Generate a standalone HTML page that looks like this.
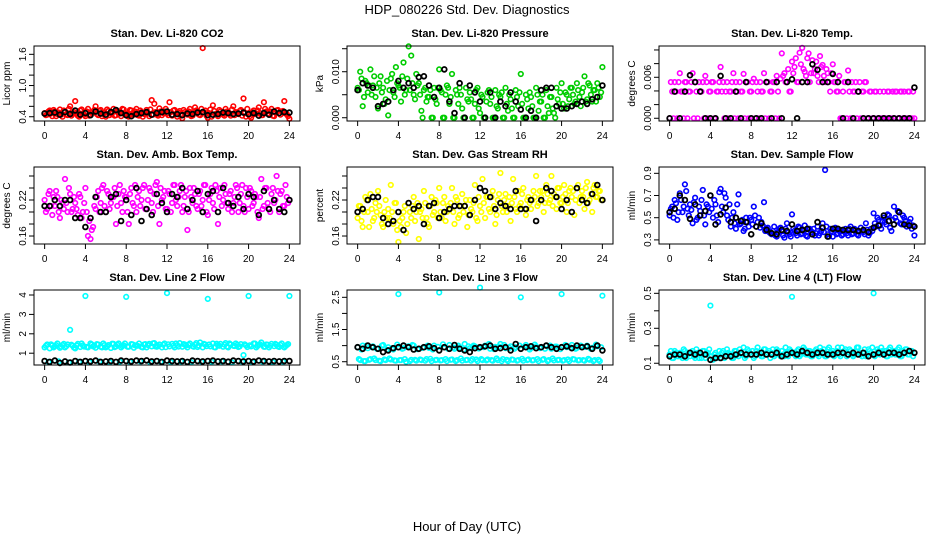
<!DOCTYPE html>
<html><head><meta charset="utf-8"><style>
body{margin:0;background:#fff}
svg{display:block;font-family:"Liberation Sans",sans-serif}
</style></head><body>
<svg id="chart" width="936" height="540" viewBox="0 0 936 540">
<rect width="936" height="540" fill="#fff"/>
<text x="467" y="14" font-size="13" text-anchor="middle">HDP_080226  Std. Dev. Diagnostics</text>
<text x="467" y="531" font-size="13" text-anchor="middle">Hour of Day (UTC)</text>
</svg>
<script>
const xTicks = [0,4,8,12,16,20,24];

const co2Color = [0.47,0.44,0.52,0.41, 0.50,0.45,0.54,0.40, 0.49,0.43,0.60,0.45, 0.70,0.42,0.52,0.46, 0.41,0.55,0.44,0.50, 0.60,0.43,0.53,0.45, 0.40,0.51,0.46,0.55, 0.43,0.50,0.41,0.54, 0.46,0.40,0.52,0.44, 0.55,0.42,0.49,0.45, 0.53,0.41,0.72,0.65, 0.44,0.56,0.43,0.50, 0.46,0.68,0.42,0.53, 0.40,0.51,0.37,0.49, 0.44,0.55,0.42,0.58, 0.47,0.43,1.72,0.52, 0.38,0.54,0.62,0.45, 0.41,0.50,0.44,0.55, 0.47,0.42,0.60,0.49, 0.45,0.53,0.75,0.40, 0.44,0.38,0.52,0.46, 0.58,0.43,0.68,0.50, 0.44,0.55,0.41,0.52, 0.47,0.50,0.70,0.45, 0.36];
const co2Color2 = [0.43,0.50,0.46,0.53, 0.41,0.48,0.44,0.52, 0.45,0.55,0.42,0.49, 0.47,0.40,0.54,0.44, 0.50,0.42,0.47,0.53, 0.45,0.51,0.41,0.48, 0.54,0.43,0.49,0.42, 0.50,0.46,0.55,0.44, 0.41,0.53,0.47,0.50, 0.43,0.52,0.40,0.48, 0.46,0.54,0.44,0.49, 0.42,0.50,0.47,0.55, 0.43,0.49,0.52,0.45, 0.48,0.42,0.53,0.46, 0.50,0.41,0.47,0.52, 0.44,0.55,0.49,0.42, 0.47,0.40,0.51,0.44, 0.53,0.46,0.42,0.50, 0.45,0.54,0.43,0.48, 0.51,0.42,0.47,0.55, 0.41,0.49,0.45,0.52, 0.47,0.43,0.55,0.46, 0.50,0.42,0.48,0.53, 0.44,0.51,0.46,0.41];
const co2Black = [0.46,0.47,0.48,0.44, 0.49,0.45,0.52,0.44, 0.47,0.43,0.50,0.46, 0.44,0.49,0.53,0.47, 0.43,0.41,0.45,0.47, 0.49,0.44,0.47,0.49, 0.50,0.44,0.45,0.43, 0.46,0.45,0.48,0.49, 0.43,0.44,0.45,0.48, 0.47,0.45,0.46,0.48, 0.45,0.47,0.42,0.47, 0.44,0.50,0.47,0.49, 0.48];

const presColor = [.0065,.010,.0025,.008, .0055,.0105,.007,.0045, .002,.009,.0065,.004, .0005,.0085,.0055,.011, .007,.0035,.012,.006, .0155,.0135,.005,.0095, .0075,.0015,.006,.0035, .0045,.000,.0065,.003, .0105,.0055,.000,.007, .003,.0095,.000,.005, .0065,.002,.000,.004, .0055,.000,.003,.0065, .001,.0045,.000,.0055, .003,.000,.006,.002, .0045,.000,.0065,.0015, .004,.000,.006,.0025, .0095,.000,.005,.002, .0045,.000,.0065,.0015, .0035,.000,.006,.001, .0045,.001,.0065,.003, .0075,.002,.005,.004, .0065,.003,.0075,.0045, .0055,.009,.004,.007, .0035,.006,.0075,.0045, .011];
const presColor2 = [.006,.0085,.0045,.0075, .007,.005,.009,.0065, .0075,.0055,.003,.008, .006,.0095,.0045,.0075, .0065,.009,.005,.0085, .006,.0075,.004,.007, .005,.000,.0065,.0045, .006,.000,.004,.0065, .006,.000,.005,.0065, .0045,.000,.006,.003, .005,.000,.0065,.0035, .004,.000,.006,.002, .005,.000,.0035,.006, .0045,.000,.0025,.005, .0055,.000,.003,.005, .002,.000,.0045,.0055, .003,.000,.004,.0055, .0025,.000,.005,.0035, .005,.000,.0025,.0045, .002,.000,.004,.0055, .003,.0055,.0025,.0065, .005,.0035,.006,.0025, .0065,.0035,.0075,.005, .006,.0035,.0065,.0055];
const presBlack = [.006,.0075,.007,.0065, .0025,.003,.0035,.006, .008,.0065,.0075,.0065, .0088,.009,.007,.0045, .0065,.0105,.0035,.001, .0075,.000,.007,.0055, .0035,.000,.0055,.000, .0035,.0025,.0055,.0035, .0018,.000,.0015,.000, .006,.0065,.0065,.0025, .002,.002,.0025,.003, .0035,.003,.004,.0045, .007];

const tempColor = [0,.0039,.0053,0, .0066,.0039,.0053,0, .0039,.0066,.0053,0, .0039,.0053,.0062,0, .0039,.0053,0,.0039, .0075,.0053,.0039,0, .0039,.0066,.0053,0, .0039,.0065,.0053,0, .0039,.0058,.0053,0, .0039,.0066,.0053,0, .0039,.0053,.0062,0, .0095,.0066,.0053,.0039, .0083,.0075,.0053,.0096, .0103,.0068,.0088,.0053, .0085,.0072,.0062,.0091, .0078,.0053,.0066,.0039, .0079,.0053,.0039,0, .0039,.0053,.0070,0, .0039,.0053,.0039,0, .0039,.0053,0,.0039, 0,.0039,0,0, .0039,0,.0039,0, 0,.0039,0,.0039, .0039,0,.0039,0, 0];
const tempColor2 = [.0053,0,.0039,.0053, .0039,0,.0053,.0039, .0053,0,.0039,.0053, .0039,0,.0053,.0039, .0053,0,.0039,.0053, .0039,0,.0053,.0039, .0053,0,.0039,.0053, .0039,0,.0053,.0039, .0053,0,.0039,.0053, .0039,0,.0053,.0039, .0053,0,.0039,.0058, .0062,.0053,.0072,.0039, .0066,.0088,.0053,.0079, .0072,.0062,.0095,.0066, .0066,.0083,.0053,.0075, .0062,.0072,.0053,.0066, .0053,.0039,.0062,0, .0053,0,.0039,.0053, .0039,0,.0053,.0039, .0053,0,.0039,0, .0039,0,.0039,0, 0,.0039,0,.0039, .0039,0,.0039,0, 0,.0039,0,.0039];
const tempBlack = [0,.0039,0,.0039, .0063,.0053,.0039,0, 0,0,.0062,0, 0,.0039,0,.0053, 0,0,0,.0053, 0,.0053,0,.0053, .0057,0,.0053,.0053, .0079,.0071,.0053,.0053, .0065,.0053,0,.0053, 0,.0039,0,0, 0,0,0,0, 0,0,0,0, .0045];

const boxColor = [.22,.205,.235,.195, .21,.225,.19,.215, .255,.2,.23,.205, .215,.195,.225,.2, .24,.16,.155,.175, .205,.235,.215,.245, .2,.23,.215,.225, .18,.23,.215,.235, .225,.18,.24,.21, .2,.235,.22,.245, .205,.24,.215,.23, .25,.18,.22,.235, .205,.23,.215,.245, .21,.235,.2,.225, .17,.24,.215,.23, .205,.235,.22,.245, .195,.23,.215,.245, .18,.24,.22,.23, .205,.235,.215,.245, .2,.23,.21,.24, .205,.235,.215,.225, .19,.255,.21,.24, .205,.23,.215,.26, .2,.235,.21,.225, .22];
const boxColor2 = [.2,.23,.21,.225, .235,.2,.22,.205, .215,.24,.2,.225, .205,.23,.19,.215, .2,.185,.17,.21, .225,.2,.24,.21, .235,.205,.225,.24, .21,.245,.2,.225, .2,.23,.215,.245, .225,.21,.24,.205, .22,.235,.2,.245, .21,.24,.225,.205, .235,.2,.245,.22, .225,.245,.21,.235, .2,.225,.24,.21, .23,.21,.245,.2, .22,.24,.205,.235, .225,.21,.245,.215, .23,.2,.225,.24, .215,.245,.2,.225, .24,.21,.23,.2, .225,.205,.24,.215, .2,.24,.22,.235, .23,.21,.245,.215];
const boxBlack = [.21,.21,.22,.21, .22,.22,.19,.19, .175,.19,.225,.2, .2,.225,.23,.185, .22,.195,.24,.185, .205,.195,.23,.215, .2,.23,.225,.24, .205,.22,.235,.2, .23,.235,.2,.24, .215,.21,.225,.205, .23,.225,.195,.235, .205,.22,.205,.2, .22];

const rhColor = [.19,.21,.175,.225, .2,.23,.185,.215, .235,.195,.175,.22, .205,.245,.18,.215, .15,.175,.2,.165, .215,.19,.225,.2, .155,.205,.235,.19, .175,.225,.2,.215, .24,.19,.225,.2, .205,.24,.18,.22, .195,.23,.21,.175, .22,.2,.245,.185, .21,.255,.19,.225, .2,.235,.18,.22, .265,.2,.23,.21, .185,.255,.205,.235, .215,.24,.195,.225, .205,.235,.26,.215, .225,.2,.245,.215, .26,.23,.205,.24, .215,.245,.2,.235, .225,.195,.24,.215, .235,.205,.25,.22, .2,.245,.225,.235, .22];
const rhColor2 = [.21,.185,.2,.22, .175,.205,.19,.2, .21,.18,.2,.19, .19,.2,.215,.17, .185,.19,.21,.18, .2,.21,.185,.215, .2,.19,.215,.18, .21,.195,.22,.19, .2,.215,.185,.21, .215,.2,.225,.19, .21,.2,.22,.195, .205,.215,.19,.225, .2,.215,.225,.205, .225,.21,.195,.23, .21,.22,.2,.225, .215,.225,.2,.21, .23,.205,.22,.215, .22,.225,.21,.235, .235,.215,.23,.22, .21,.225,.24,.215, .225,.23,.215,.24, .235,.22,.245,.225, .225,.24,.215,.23, .24,.225,.235,.22];
const rhBlack = [.2,.205,.22,.225, .225,.19,.18,.185, .2,.17,.215,.205, .21,.18,.21,.215, .19,.2,.205,.21, .21,.21,.195,.22, .24,.235,.225,.205, .215,.21,.205,.235, .205,.205,.22,.185, .22,.24,.235,.225, .205,.22,.2,.24, .22,.215,.23,.245, .22];

const flowColor = [.52,.6,.66,.48, .72,.55,.8,.58, .62,.45,.68,.5, .56,.75,.44,.6, .7,.5,.62,.46, .76,.55,.68,.48, .42,.55,.4,.71, .45,.38,.5,.42, .48,.6,.42,.5, .46,.64,.4,.37, .35,.42,.33,.4, .38,.32,.45,.35, .53,.38,.34,.41, .36,.43,.33,.4, .37,.34,.42,.36, .45,.93,.35,.4, .33,.41,.36,.39, .35,.4,.34,.42, .36,.39,.34,.41, .37,.45,.34,.4, .54,.42,.48,.4, .5,.44,.52,.38, .6,.47,.55,.44, .5,.42,.46,.4, .34];
const flowColor2 = [.58,.5,.63,.55, .66,.6,.74,.52, .57,.64,.48,.6, .66,.52,.62,.55, .58,.66,.52,.73, .6,.72,.52,.62, .5,.45,.62,.44, .48,.4,.46,.5, .44,.52,.46,.41, .43,.38,.41,.36, .38,.34,.37,.41, .34,.4,.37,.33, .4,.36,.42,.35, .38,.34,.4,.37, .4,.36,.34,.38, .37,.42,.33,.38, .4,.35,.38,.34, .38,.36,.4,.35, .4,.35,.37,.38, .35,.39,.36,.38, .45,.5,.43,.47, .46,.53,.41,.48, .5,.56,.45,.52, .47,.44,.49,.43];
const flowBlack = [.55,.58,.7,.66, .49,.62,.52,.56, .7,.44,.53,.59, .46,.5,.47,.46, .35,.42,.45,.39, .36,.35,.39,.38, .44,.38,.39,.4, .35,.46,.41,.33, .4,.4,.39,.39, .39,.38,.39,.37, .41,.43,.52,.47, .44,.55,.44,.43, .42];

const line2Color = [1.3,1.45,1.25,1.4, 1.35,1.5,1.28,1.42, 1.3,1.45,2.2,1.38, 1.25,1.48,1.32,1.4, 3.95,1.3,1.5,1.35, 1.28,1.45,1.33,1.5, 1.3,1.42,1.27,1.48, 1.35,1.5,1.3,1.4, 3.9,1.33,1.47,1.28, 1.4,1.5,1.32,1.45, 1.3,1.48,1.35,1.52, 1.33,1.45,1.3,1.5, 4.1,1.35,1.48,1.3, 1.42,1.52,1.33,1.45, 1.3,1.5,1.36,1.44, 1.32,1.55,1.3,1.45, 3.8,1.35,1.5,1.3, 1.42,1.48,1.33,1.52, 1.3,1.45,1.38,1.5, 1.32,1.47,0.9,1.4, 3.95,1.35,1.5,1.3, 1.42,1.55,1.33,1.45, 1.3,1.48,1.36,1.44, 1.32,1.5,1.3,1.42, 3.95];
const line2Color2 = [1.38,.55,1.46,1.3, 1.42,.58,1.33,1.48, 1.36,.52,1.44,1.29, 1.4,.56,1.5,1.34, 1.32,.54,1.45,1.38, 1.47,.57,1.3,1.42, 1.35,.53,1.49,1.31, 1.44,.56,1.36,1.5, 1.33,.55,1.46,1.4, 1.38,.58,1.3,1.47, 1.42,.52,1.51,1.35, 1.37,.56,1.44,1.31, 1.46,.54,1.38,1.5, 1.34,.57,1.47,1.4, 1.43,.53,1.33,1.52, 1.39,.56,1.48,1.36, 1.45,.55,1.31,1.49, 1.38,.58,1.44,1.34, 1.5,.52,1.37,1.43, 1.35,.56,1.46,1.32, 1.41,.54,1.5,1.37, 1.46,.57,1.33,1.44, 1.38,.53,1.48,1.35, 1.43,.56,1.36,1.47];
const line2Black = [.6,.55,.62,.5, .58,.52,.6,.55, .6,.58,.62,.55, .58,.6,.55,.62, .6,.58,.62,.6, .63,.58,.6,.55, .62,.6,.58,.6, .55,.62,.6,.58, .6,.62,.58,.6, .56,.62,.6,.58, .6,.57,.62,.6, .58,.6,.58,.6, .6];

const line3Color = [.95,.55,1.0,.52, .92,.58,.98,.55, .9,.52,1.02,.55, .95,.57,.88,.53, 2.6,.55,.92,.5, .98,.56,1.0,.53, .9,.55,.95,.58, .93,.52,1.0,.56, 2.65,.55,.95,.52, 1.02,.57,.9,.55, .95,.53,1.05,.56, .92,.58,.98,.52, 2.8,.55,1.0,.57, .9,.53,.96,.55, 1.05,.58,.92,.52, .98,.56,.95,.55, 2.5,.53,1.02,.57, .92,.55,.98,.52, .95,.58,1.0,.55, .9,.54,.97,.56, 2.6,.55,.95,.52, 1.02,.57,.93,.55, .97,.53,1.0,.56, .93,.55,.98,.52, 2.55];
const line3Color2 = [.58,.88,.52,1.0, .56,.95,.6,.9, .53,1.0,.57,.87, .6,.92,.54,1.03, .55,.9,.58,.97, .52,1.02,.56,.89, .57,.93,.53,1.0, .59,.88,.55,.96, .54,1.04,.58,.9, .56,.94,.52,1.0, .6,.87,.55,.98, .53,1.0,.57,.91, .58,.95,.54,1.05, .55,.89,.6,.97, .52,1.02,.56,.93, .57,.9,.53,1.0, .59,.96,.55,.88, .54,1.03,.58,.92, .56,.9,.52,1.0, .6,.97,.55,.89, .53,1.02,.57,.94, .58,.9,.54,1.0, .55,.96,.59,.9, .52,1.03,.56,.95];
const line3Black = [.95,.9,1.0,.95, .9,.8,.85,.92, .95,1.0,.95,.88, .9,.95,.98,.92, .85,.95,.9,1.02, .9,.85,.8,.92, .95,.98,1.0,.9, .92,.95,.85,1.05, .9,.95,.98,.92, .95,1.0,.95,.9, .95,.98,.92,1.0, .95,.98,.9,1.0, .85];

const line4Color = [.15,.13,.17,.14, .16,.13,.17,.15, .14,.17,.13,.16, .15,.17,.13,.16, .43,.12,.16,.14, .13,.17,.14,.16, .15,.13,.17,.14, .16,.19,.14,.17, .15,.13,.17,.16, .14,.18,.15,.17, .16,.14,.18,.15, .17,.14,.16,.18, .48,.15,.17,.14, .16,.18,.15,.17, .14,.17,.15,.19, .16,.14,.18,.15, .17,.15,.19,.14, .16,.18,.15,.17, .14,.17,.19,.15, .16,.14,.18,.16, .50,.15,.17,.19, .16,.14,.18,.15, .17,.15,.19,.14, .16,.18,.15,.17, .16];
const line4Color2 = [.17,.13,.16,.14, .14,.18,.13,.16, .16,.14,.18,.13, .13,.17,.15,.18, .14,.15,.13,.17, .16,.13,.18,.15, .13,.17,.15,.18, .15,.13,.18,.16, .17,.14,.19,.15, .14,.18,.16,.13, .18,.15,.17,.14, .15,.19,.14,.17, .16,.14,.18,.15, .19,.15,.17,.14, .15,.18,.14,.17, .18,.14,.19,.16, .14,.17,.15,.19, .17,.14,.18,.15, .15,.19,.16,.14, .18,.15,.17,.19, .14,.18,.15,.17, .17,.14,.19,.16, .15,.18,.14,.17, .18,.15,.17,.14];
const line4Black = [.14,.15,.15,.14, .16,.15,.16,.15, .12,.13,.13,.14, .14,.15,.16,.15, .15,.15,.16,.15, .15,.16,.14,.15, .16,.15,.17,.16, .15,.16,.16,.15, .15,.16,.16,.15, .16,.15,.16,.14, .15,.16,.15,.16, .16,.15,.16,.17, .16];

const panels = [
 {name:"co2",title:"Stan. Dev. Li-820 CO2",ylab:"Licor ppm",col:"#ff0000",c:co2Color,c2:co2Color2,b:co2Black,x0:34,y0:46,h:75,ymin:0.318,ymax:1.76,ticks:[0.4,0.6,0.8,1.0,1.2,1.4,1.6],labels:["0.4","","","1.0","","","1.6"]},
 {name:"pressure",title:"Stan. Dev. Li-820 Pressure",ylab:"kPa",col:"#00cd00",c:presColor,c2:presColor2,b:presBlack,x0:347,y0:46,h:75,ymin:-0.00071,ymax:0.01559,ticks:[0,0.005,0.010,0.015],labels:["0.000","","0.010",""]},
 {name:"temp",title:"Stan. Dev. Li-820 Temp.",ylab:"degrees C",col:"#ff00ff",c:tempColor,c2:tempColor2,b:tempBlack,x0:659,y0:46,h:75,ymin:-0.0004,ymax:0.01058,ticks:[0,0.002,0.004,0.006,0.008,0.010],labels:["0.000","","","0.006","",""]},
 {name:"box-temp",title:"Stan. Dev. Amb. Box Temp.",ylab:"degrees C",col:"#ff00ff",c:boxColor,c2:boxColor2,b:boxBlack,x0:34,y0:167,h:77,ymin:0.1467,ymax:0.275,ticks:[0.16,0.18,0.20,0.22,0.24,0.26],labels:["0.16","","","0.22","",""]},
 {name:"gas-rh",title:"Stan. Dev. Gas Stream RH",ylab:"percent",col:"#ffff00",c:rhColor,c2:rhColor2,b:rhBlack,x0:347,y0:167,h:77,ymin:0.1467,ymax:0.275,ticks:[0.16,0.18,0.20,0.22,0.24,0.26],labels:["0.16","","","0.22","",""]},
 {name:"sample-flow",title:"Stan. Dev. Sample Flow",ylab:"ml/min",col:"#0000ff",c:flowColor,c2:flowColor2,b:flowBlack,x0:659,y0:167,h:77,ymin:0.263,ymax:0.957,ticks:[0.3,0.5,0.7,0.9],labels:["0.3","0.5","0.7","0.9"]},
 {name:"line2",title:"Stan. Dev. Line 2 Flow",ylab:"ml/min",col:"#00ffff",c:line2Color,c2:line2Color2,b:line2Black,x0:34,y0:290,h:75,ymin:0.392,ymax:4.258,ticks:[1,2,3,4],labels:["1","2","3","4"]},
 {name:"line3",title:"Stan. Dev. Line 3 Flow",ylab:"ml/min",col:"#00ffff",c:line3Color,c2:line3Color2,b:line3Black,x0:347,y0:290,h:75,ymin:0.398,ymax:2.727,ticks:[0.5,1.0,1.5,2.0,2.5],labels:["0.5","","1.5","","2.5"]},
 {name:"line4",title:"Stan. Dev. Line 4 (LT) Flow",ylab:"ml/min",col:"#00ffff",c:line4Color,c2:line4Color2,b:line4Black,x0:659,y0:290,h:75,ymin:0.09,ymax:0.519,ticks:[0.1,0.2,0.3,0.4,0.5],labels:["0.1","","0.3","","0.5"]}
];

const NS="http://www.w3.org/2000/svg";
const svg=document.getElementById('chart');
function mk(tag,attrs,parent){const e=document.createElementNS(NS,tag);for(const k in attrs)e.setAttribute(k,attrs[k]);(parent||svg).appendChild(e);return e;}

panels.forEach(p=>{
  const W=266;
  const g=mk('g',{});
  
  
  const xs=v=>p.x0+W*0.04+(v/24)*W*0.92;
  const ys=v=>p.y0+p.h-(v-p.ymin)/(p.ymax-p.ymin)*p.h;
  const t=mk('text',{x:p.x0+W/2,y:p.y0-9,'font-size':11,'font-weight':'bold','text-anchor':'middle'},g);
  t.textContent=p.title;
  
  
  const yl=mk('text',{x:0,y:0,'font-size':10,'text-anchor':'middle',transform:`translate(${p.x0-24},${p.y0+p.h/2}) rotate(-90)`},g);
  yl.textContent=p.ylab;
  
  
  const pc=mk('g',{fill:'none',stroke:p.col,'stroke-width':1.6},g);
  
  
  p.c.forEach((v,i)=>{const c=mk('circle',{cx:xs(i*0.25).toFixed(1),cy:ys(v).toFixed(1),r:2.3},pc);
    
    });
  p.c2.forEach((v,i)=>{const c=mk('circle',{cx:xs(i*0.25+0.125).toFixed(1),cy:ys(v).toFixed(1),r:2.3},pc);
    
    });
  const pb=mk('g',{fill:'none',stroke:'#000','stroke-width':1.8},g);
  
  
  p.b.forEach((v,i)=>{const c=mk('circle',{cx:xs(i*0.5).toFixed(1),cy:ys(v).toFixed(1),r:2.4},pb);
    
    });
  const bx=mk('rect',{x:p.x0,y:p.y0,width:W,height:p.h,fill:'none',stroke:'#000','stroke-width':1},g);
  
  
  const xa=mk('g',{stroke:'#000','stroke-width':1},g);
  
  
  mk('line',{x1:xs(0),x2:xs(24),y1:p.y0+p.h,y2:p.y0+p.h},xa);
  xTicks.forEach(v=>{
    mk('line',{x1:xs(v),x2:xs(v),y1:p.y0+p.h,y2:p.y0+p.h+5},xa);
    const tl=mk('text',{x:xs(v),y:p.y0+p.h+18,'font-size':10,'text-anchor':'middle',stroke:'none'},g);
    tl.textContent=v;
    
    
  });
  const ya=mk('g',{stroke:'#000','stroke-width':1},g);
  
  
  mk('line',{x1:p.x0,x2:p.x0,y1:ys(p.ticks[0]),y2:ys(p.ticks[p.ticks.length-1])},ya);
  p.ticks.forEach((v,i)=>{
    mk('line',{x1:p.x0-5,x2:p.x0,y1:ys(v),y2:ys(v)},ya);
    if(p.labels[i]){
      const tl=mk('text',{x:0,y:0,'font-size':10,'text-anchor':'middle',transform:`translate(${p.x0-8},${ys(v)}) rotate(-90)`},g);
      tl.textContent=p.labels[i];
      
      
    }
  });
});
</script>
</body></html>
